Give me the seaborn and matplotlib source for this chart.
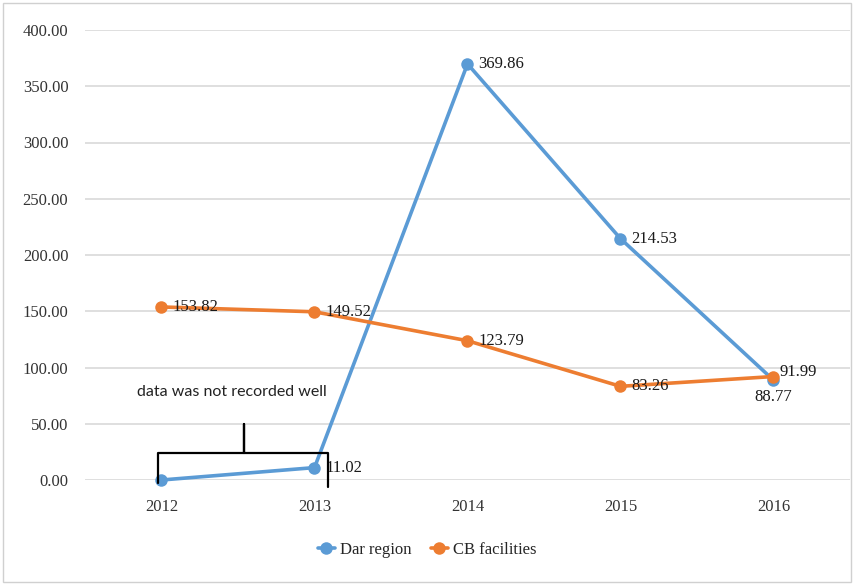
import matplotlib
matplotlib.use("Agg")
import matplotlib.pyplot as plt
import seaborn as sns
import pandas as pd
from matplotlib.lines import Line2D
from matplotlib.patches import Rectangle

years = ["2012", "2013", "2014", "2015", "2016"]
dar_region = [0.0, 11.02, 369.86, 214.53, 88.77]
cb_facilities = [153.82, 149.52, 123.79, 83.26, 91.99]
series_names = ["Dar region", "CB facilities"]
yticks = [0, 50, 100, 150, 200, 250, 300, 350, 400]
note_text = "data was not recorded well"

blue = "#5B9BD5"
orange = "#ED7D31"
serif = ["Liberation Serif", "DejaVu Serif"]

df = pd.DataFrame({
    "Year": years * 2,
    "Value": dar_region + cb_facilities,
    "Series": [series_names[0]] * len(years) + [series_names[1]] * len(years),
})

sns.set_theme(style="white")
plt.rcParams["font.family"] = serif

fig = plt.figure(figsize=(8.54, 5.85), dpi=100)
ax = fig.add_axes([85 / 854, 105 / 585, 765 / 854, 450 / 585])

sns.lineplot(data=df, x="Year", y="Value", hue="Series",
             palette={series_names[0]: blue, series_names[1]: orange},
             marker="o", markersize=9, markeredgewidth=0, linewidth=2.6,
             sort=False, legend=False, ax=ax, zorder=3)
for line in ax.lines:
    line.set_clip_on(False)

ax.set_xlim(-0.5, len(years) - 0.5)
ax.set_ylim(0, 400)
ax.set_yticks(yticks)
ax.set_yticklabels([f"{v:.2f}" for v in yticks], fontsize=12, color="#333333",
                   family=serif)
ax.set_xticks(range(len(years)))
ax.set_xticklabels(years, fontsize=12, color="#333333", family=serif)
ax.set_xlabel("")
ax.set_ylabel("")
ax.tick_params(axis="y", length=0, pad=12)
ax.tick_params(axis="x", length=0, pad=14)
ax.yaxis.grid(True, color="#d9d9d9", linewidth=1.2)
ax.set_axisbelow(True)
for s in ax.spines.values():
    s.set_visible(False)

# data labels
lab_kw = dict(fontsize=12, color="#1a1a1a", zorder=4, family=serif)
for i, v in enumerate(dar_region):
    if i == 0:
        continue
    if i == len(years) - 1:
        ax.text(i, v - 8, f"{v:.2f}", ha="center", va="top", **lab_kw)
    else:
        ax.text(i + 0.07, v, f"{v:.2f}", ha="left", va="center", **lab_kw)
for i, v in enumerate(cb_facilities):
    if i == len(years) - 1:
        ax.text(i + 0.04, v + 4, f"{v:.2f}", ha="left", va="center", **lab_kw)
    else:
        ax.text(i + 0.07, v, f"{v:.2f}", ha="left", va="center", **lab_kw)

# curly brace over the first two years
bx = [-0.02, -0.02, 0.54, 0.54, 0.54, 1.09, 1.09]
by = [-3, 24, 24, 50, 24, 24, -6]
ax.plot(bx, by, color="black", linewidth=1.6, clip_on=False, zorder=5,
        solid_joinstyle="round")
ax.text(0.46, 78, note_text, ha="center", va="center", fontsize=11.5,
        family=["Lato", "DejaVu Sans"], color="#222222")

# legend
handles = [Line2D([0], [0], color=c, marker="o", markersize=9,
                  markeredgewidth=0, linewidth=2.6)
           for c in (blue, orange)]
fig.legend(handles, series_names, loc="center", bbox_to_anchor=(0.5, 35 / 585),
           ncol=2, frameon=False, fontsize=12, handlelength=1.0,
           columnspacing=1.2, handletextpad=0.3,
           prop={"family": serif, "size": 12})

fig.patches.append(Rectangle((0.003, 0.005), 0.994, 0.99, transform=fig.transFigure,
                             fill=False, edgecolor="#d0d0d0", linewidth=1.0))

fig.savefig("out.png", dpi=100)
